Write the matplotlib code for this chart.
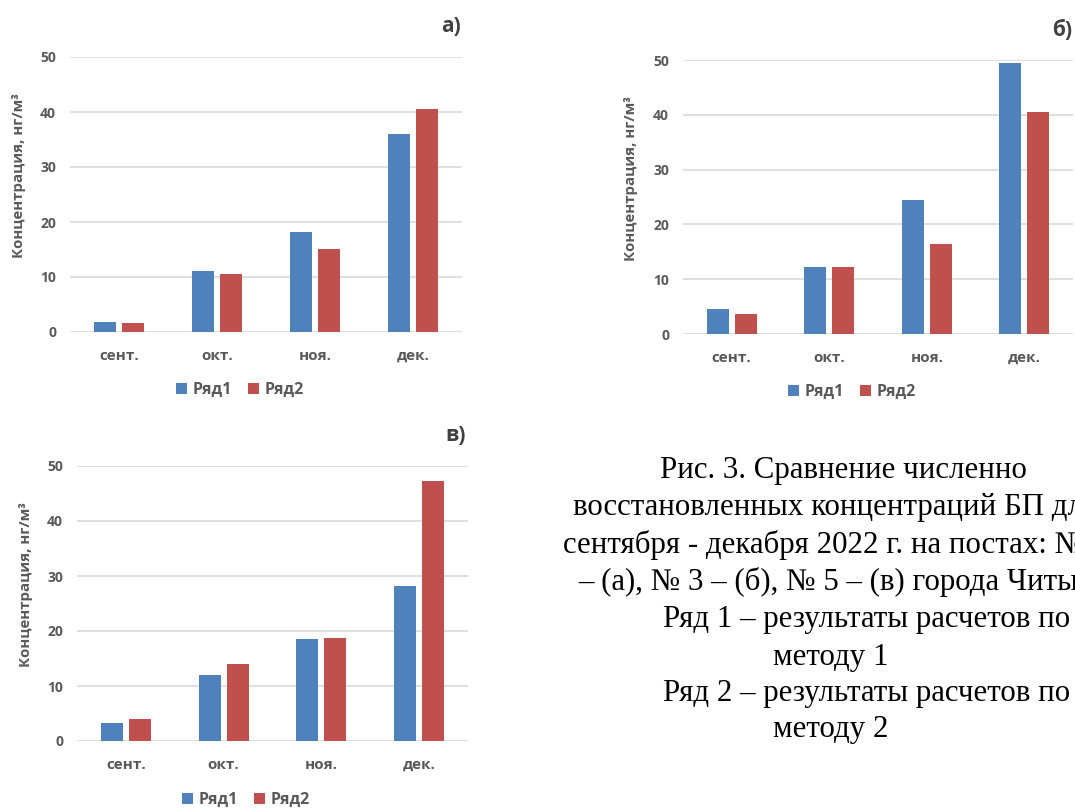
import matplotlib
matplotlib.use("Agg")
import matplotlib.pyplot as plt
import numpy as np

# data
months = ['сент.', 'окт.', 'ноя.', 'дек.']
a_row1 = [1.8, 11.1, 18.1, 36.0]
a_row2 = [1.55, 10.5, 15.0, 40.6]
b_row1 = [4.5, 12.3, 24.4, 49.5]
b_row2 = [3.7, 12.2, 16.4, 40.5]
v_row1 = [3.3, 12.0, 18.6, 28.1]
v_row2 = [4.0, 14.0, 18.7, 47.2]
series_names = ['Ряд1', 'Ряд2']
yticks = [0, 10, 20, 30, 40, 50]
ylabel = 'Концентрация, нг/м³'

caption_lines = [
    'Рис. 3. Сравнение численно',
    'восстановленных концентраций БП для',
    'сентября - декабря 2022 г. на постах: № 1',
    '– (а), № 3 – (б), № 5 – (в) города Читы.',
    'Ряд 1 – результаты расчетов по',
    'методу 1',
    'Ряд 2 – результаты расчетов по',
    'методу 2',
]

BLUE = '#4F81BD'
RED = '#C0504D'
GRAY = '#595959'
GRID = '#D9D9D9'
W, H = 1075, 809

plt.rcParams['font.family'] = ['Open Sans', 'DejaVu Sans']

fig = plt.figure(figsize=(W / 100, H / 100), dpi=100)
fig.patch.set_facecolor('white')


def fx(x):
    return x / W


def fy(y):
    return 1 - y / H


def panel(left, right, top, bottom, row1, row2, letter, letter_xy, ylab_xy, leg_xy):
    ax = fig.add_axes([fx(left), fy(bottom), (right - left) / W, (bottom - top) / H])
    x = np.arange(len(months))
    bw = 0.225
    off = 0.143
    ax.bar(x - off, row1, bw, color=BLUE, label=series_names[0], zorder=3)
    ax.bar(x + off, row2, bw, color=RED, label=series_names[1], zorder=3)
    ax.set_xlim(-0.5, len(months) - 0.5)
    ax.set_ylim(0, 50)
    ax.set_yticks(yticks)
    ax.set_xticks(x)
    ax.set_xticklabels(months)
    for s in ['top', 'right', 'left', 'bottom']:
        ax.spines[s].set_visible(False)
    ax.grid(axis='y', color=GRID, linewidth=1.2, zorder=0)
    ax.set_axisbelow(True)
    ax.tick_params(axis='y', length=0, pad=10, labelsize=10, labelcolor=GRAY)
    ax.tick_params(axis='x', length=0, pad=12, labelsize=11, labelcolor=GRAY)
    for lab in ax.get_xticklabels() + ax.get_yticklabels():
        lab.set_fontweight('bold')
    fig.text(fx(letter_xy[0]), fy(letter_xy[1]), letter, fontsize=15, fontweight='bold',
             color='#404040', ha='center', va='center')
    fig.text(fx(ylab_xy[0]), fy(ylab_xy[1]), ylabel, rotation=90, fontsize=10.8,
             fontweight='bold', color=GRAY, ha='center', va='center')
    ax.legend(loc='center', bbox_to_anchor=(fx(leg_xy[0]), fy(leg_xy[1])),
              bbox_transform=fig.transFigure, ncol=2, frameon=False,
              handlelength=0.7, handleheight=0.7, handletextpad=0.35,
              columnspacing=1.0, prop={'weight': 'bold', 'size': 11.5},
              labelcolor=GRAY)
    return ax


panel(70, 462, 57, 332, a_row1, a_row2, 'а)', (451, 27), (19, 176), (240, 390))
panel(683, 1073, 60, 334, b_row1, b_row2, 'б)', (1062, 30), (631, 179), (852, 392))
panel(77, 468, 466, 741, v_row1, v_row2, 'в)', (456, 436), (26, 585), (246, 800))

# caption, cut by the right edge like in the source
starts = [660, 573, 563, 578, 663, 773, 663, 773]
ys = [470, 508, 545, 582, 620, 657, 693, 730]
for line, sx, sy in zip(caption_lines, starts, ys):
    fig.text(fx(sx), fy(sy), line, fontsize=22.2, family='Liberation Serif',
             color='black', ha='left', va='center')

fig.savefig('out.png', dpi=100)
